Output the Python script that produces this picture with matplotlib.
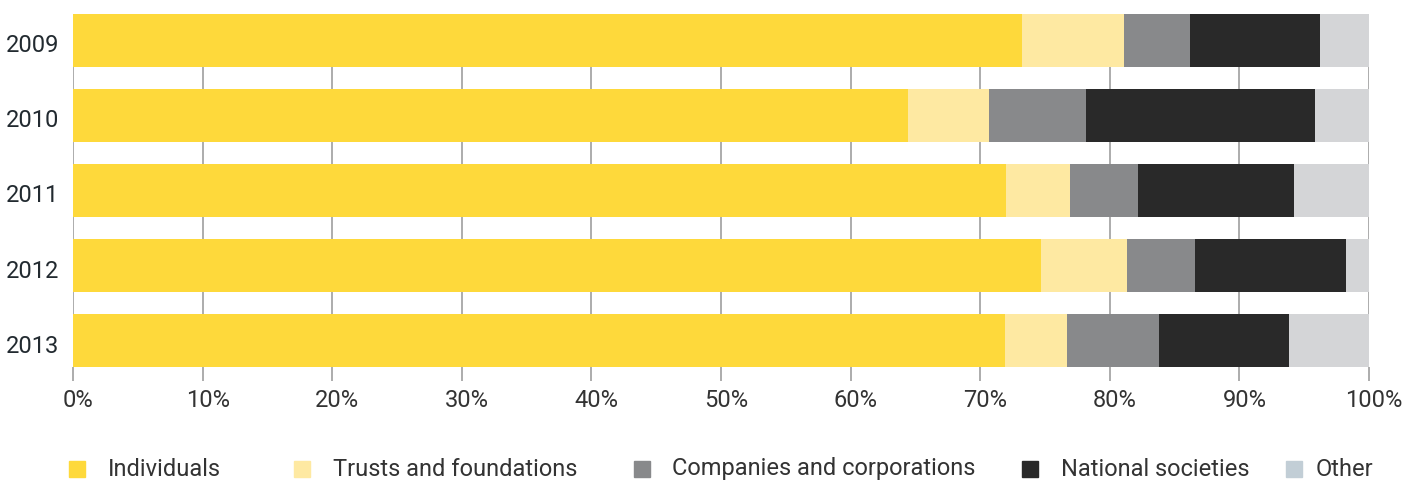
import matplotlib
matplotlib.use("Agg")
import matplotlib.pyplot as plt
from matplotlib.patches import Rectangle
from matplotlib.transforms import ScaledTranslation
import numpy as np

years = ["2009", "2010", "2011", "2012", "2013"]
series = ["Individuals", "Trusts and foundations", "Companies and corporations",
          "National societies", "Other"]
individuals = [73.2, 64.4, 72.0, 74.7, 71.9]
trusts = [7.9, 6.3, 4.9, 6.6, 4.8]
companies = [5.1, 7.5, 5.3, 5.3, 7.1]
national = [10.0, 17.6, 12.0, 11.6, 10.0]
other = [3.8, 4.2, 5.8, 1.8, 6.2]

bar_colors = ["#fed93b", "#fee9a2", "#88898b", "#292929", "#d4d5d7"]
legend_colors = ["#fed93b", "#fee9a2", "#88898b", "#292929", "#c2ced6"]

plt.rcParams['font.family'] = ['Roboto', 'DejaVu Sans']

fig = plt.figure(figsize=(14.06, 4.8), dpi=100)
ax = fig.add_axes([73/1406, 1-367/480, (1369-73)/1406, (367-14)/480])

y = np.arange(len(years))
left = np.zeros(len(years))
for vals, c, name in zip([individuals, trusts, companies, national, other], bar_colors, series):
    ax.barh(y, vals, left=left, height=0.7, color=c, label=name, zorder=2)
    left += np.array(vals)

ax.set_xlim(0, 100)
ax.set_ylim(4.35, -0.35)
ax.set_xticks(np.arange(0, 101, 10))
ax.set_xticklabels([f"{v}%" for v in range(0, 101, 10)])
ax.set_yticks(y)
ax.set_yticklabels(years)
ax.xaxis.grid(True, color="#a6a6a6", linewidth=1.3, zorder=0)
for s in ["top", "bottom", "left", "right"]:
    ax.spines[s].set_visible(False)
ax.tick_params(axis='x', length=10, width=1.3, color="#a6a6a6", labelsize=17,
               labelcolor="#333333", pad=6)
ax.tick_params(axis='y', length=0, labelsize=17, labelcolor="#222a30", pad=10)

off = ScaledTranslation(5/100, 0, fig.dpi_scale_trans)
for lbl in ax.get_xticklabels():
    lbl.set_transform(lbl.get_transform() + off)
offy = ScaledTranslation(0, -3/100, fig.dpi_scale_trans)
for lbl in ax.get_yticklabels():
    lbl.set_transform(lbl.get_transform() + offy)

# legend
sq_x = [69, 294, 634, 1022, 1286]
txt_x = [108, 333, 672, 1061, 1316]
for name, c, sx, tx in zip(series, legend_colors, sq_x, txt_x):
    fig.add_artist(Rectangle((sx/1406, 1-477/480), 16/1406, 16/480,
                             transform=fig.transFigure, color=c))
    fig.text(tx/1406, 1-469/480, name, fontsize=17, color="#333333",
             va="center", ha="left")

fig.savefig("out.png", dpi=100)
